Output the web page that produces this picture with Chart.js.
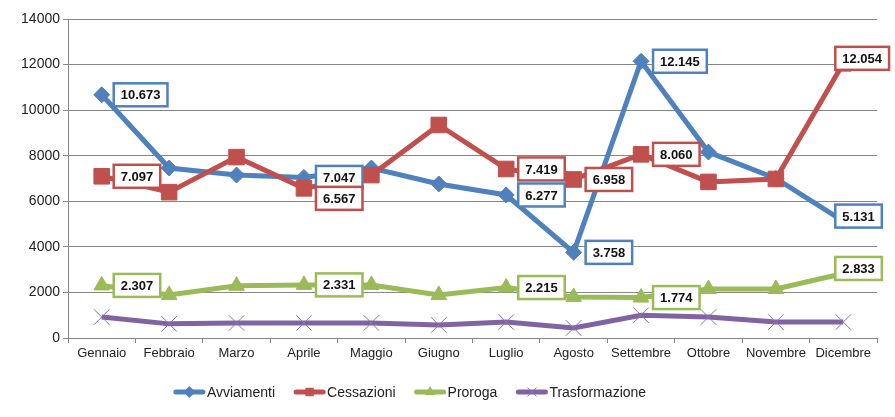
<!DOCTYPE html>
<html>
<head>
<meta charset="utf-8">
<script src="https://cdn.jsdelivr.net/npm/chart.js@4.4.1/dist/chart.umd.min.js"></script>
<style>
  html, body { margin: 0; padding: 0; background: #fff; }
  #wrap { width: 895px; height: 417px; }
</style>
</head>
<body>
<div id="wrap"><canvas id="chart"></canvas></div>
<script>
const months = ["Gennaio", "Febbraio", "Marzo", "Aprile", "Maggio", "Giugno",
  "Luglio", "Agosto", "Settembre", "Ottobre", "Novembre", "Dicembre"];
const avviamenti = [10673, 7460, 7150, 7047, 7460, 6760, 6277, 3758, 12145, 8160, 7000, 5131];
const cessazioni = [7097, 6400, 7940, 6567, 7150, 9350, 7419, 6958, 8060, 6850, 6980, 12054];
const proroga = [2307, 1890, 2290, 2331, 2330, 1890, 2215, 1800, 1774, 2150, 2150, 2833];
const trasformazione = [920, 620, 660, 660, 660, 570, 700, 440, 1000, 920, 700, 700];
const yMax = 14000;
const yStep = 2000;

// months (index) that show a value box, per series
const labelledAvv = [0, 3, 6, 7, 8, 11];
const labelledCes = [0, 3, 6, 7, 8, 11];
const labelledPro = [0, 3, 6, 8, 11];
const labelledTra = [];

const FONT = "'Liberation Sans', Arial, sans-serif";
const GRID = "#868686";

// 10673 -> "10.673"
function fmt(v) {
  return String(v).replace(/\B(?=(\d{3})+(?!\d))/g, ".");
}

function drawMarker(ctx, style, x, y, r, color) {
  ctx.save();
  ctx.fillStyle = color;
  ctx.strokeStyle = color;
  ctx.beginPath();
  if (style === "rectRot") {
    ctx.moveTo(x, y - r); ctx.lineTo(x + r, y); ctx.lineTo(x, y + r); ctx.lineTo(x - r, y);
    ctx.closePath(); ctx.fill();
  } else if (style === "rect") {
    ctx.rect(x - r * 0.7, y - r * 0.7, r * 1.4, r * 1.4); ctx.fill();
  } else if (style === "triangle") {
    ctx.moveTo(x, y - r); ctx.lineTo(x + r * 0.87, y + r * 0.5); ctx.lineTo(x - r * 0.87, y + r * 0.5);
    ctx.closePath(); ctx.fill();
  } else {
    ctx.lineWidth = 1;
    ctx.moveTo(x - r * 0.7, y - r * 0.7); ctx.lineTo(x + r * 0.7, y + r * 0.7);
    ctx.moveTo(x + r * 0.7, y - r * 0.7); ctx.lineTo(x - r * 0.7, y + r * 0.7);
    ctx.stroke();
  }
  ctx.restore();
}

// boxed value labels, Excel style
const valueBoxes = {
  id: "valueBoxes",
  afterDatasetsDraw(chart) {
    const ctx = chart.ctx;
    const last = chart.data.labels.length - 1;
    ctx.save();
    ctx.font = "bold 13px " + FONT;
    ctx.textBaseline = "middle";
    chart.data.datasets.forEach((ds, di) => {
      const meta = chart.getDatasetMeta(di);
      ds.labelled.forEach((i) => {
        const pt = meta.data[i];
        const txt = fmt(ds.data[i]);
        const w = ctx.measureText(txt).width + 14;
        const h = 23;
        let x = pt.x + 12;
        let cy = pt.y;
        if (i === last) { x = pt.x - 8; cy = pt.y - 5; }
        if (ds.label === "Cessazioni" && i === 3) cy = pt.y + 10;
        ctx.fillStyle = "#fff";
        ctx.fillRect(x, cy - h / 2, w, h);
        ctx.lineWidth = 2.5;
        ctx.strokeStyle = ds.borderColor;
        ctx.strokeRect(x, cy - h / 2, w, h);
        ctx.fillStyle = "#111";
        ctx.textAlign = "center";
        ctx.fillText(txt, x + w / 2, cy + 1);
      });
    });
    ctx.restore();
  }
};

// legend with line + marker samples
const lineLegend = {
  id: "lineLegend",
  afterDraw(chart) {
    const ctx = chart.ctx;
    const y = 392;
    const sample = 31;
    const gap = 19;
    ctx.save();
    ctx.font = "14px " + FONT;
    ctx.textBaseline = "middle";
    const items = chart.data.datasets.map((ds) => ({ ds, w: sample + 2 + ctx.measureText(ds.label).width }));
    const total = items.reduce((s, it) => s + it.w, 0) + gap * (items.length - 1);
    let x = 410 - total / 2;
    items.forEach(({ ds, w }) => {
      ctx.strokeStyle = ds.borderColor;
      ctx.lineWidth = 5;
      ctx.lineCap = "round";
      ctx.beginPath();
      ctx.moveTo(x + 2, y); ctx.lineTo(x + sample - 2, y);
      ctx.stroke();
      drawMarker(ctx, ds.pointStyle, x + sample / 2, y, 6, ds.pointBorderColor);
      ctx.fillStyle = "#222";
      ctx.textAlign = "left";
      ctx.fillText(ds.label, x + sample + 2, y + 1);
      x += w + gap;
    });
    ctx.restore();
  }
};

function series(label, data, color, style, radius, order, labelled) {
  return {
    label, data, labelled, order,
    borderColor: color,
    backgroundColor: color,
    borderWidth: 5,
    tension: 0,
    pointStyle: style,
    pointRadius: radius,
    pointHoverRadius: radius,
    pointBackgroundColor: color,
    pointBorderColor: style === "crossRot" ? "#8a72ad" : color,
    pointBorderWidth: 1
  };
}

new Chart(document.getElementById("chart"), {
  type: "line",
  data: {
    labels: months,
    datasets: [
      series("Avviamenti", avviamenti, "#4F81BD", "rectRot", 8, 4, labelledAvv),
      series("Cessazioni", cessazioni, "#C0504D", "rect", 11, 3, labelledCes),
      series("Proroga", proroga, "#9BBB59", "triangle", 9, 2, labelledPro),
      series("Trasformazione", trasformazione, "#8064A2", "crossRot", 11, 1, labelledTra)
    ]
  },
  options: {
    responsive: true,
    maintainAspectRatio: false,
    animation: false,
    layout: { padding: { top: 19, right: 18, bottom: 49, left: 0 } },
    plugins: {
      legend: { display: false },
      tooltip: { enabled: false }
    },
    scales: {
      x: {
        offset: true,
        grid: { offset: true, drawOnChartArea: false, drawTicks: true, tickLength: 5, color: GRID },
        border: { color: GRID },
        ticks: { color: "#222", font: { family: FONT, size: 13 }, padding: 3, maxRotation: 0, autoSkip: false },
        afterFit(s) { s.height = 30; }
      },
      y: {
        min: 0,
        max: yMax,
        ticks: {
          stepSize: yStep, color: "#222", font: { family: FONT, size: 14 }, padding: 3,
          callback: (v) => String(v)
        },
        grid: { color: GRID, tickLength: 5 },
        border: { color: GRID },
        afterFit(s) { s.width = 68; }
      }
    }
  },
  plugins: [valueBoxes, lineLegend]
});
</script>
</body>
</html>
